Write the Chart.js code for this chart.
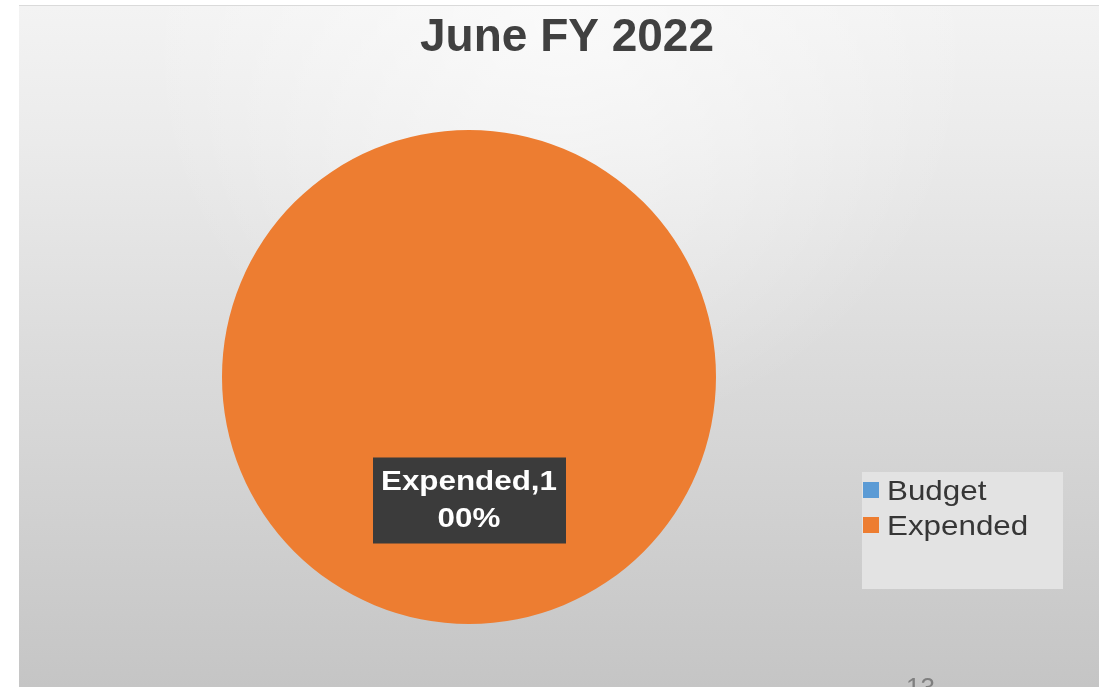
<!DOCTYPE html>
<html lang="en-US">
<head>
    <meta charset="utf-8">
    <title>June FY 2022</title>
    <script src="https://cdn.jsdelivr.net/npm/chart.js@4/dist/chart.umd.min.js"></script>
</head>
<style>
    html, body { margin: 0; padding: 0; background: #ffffff; overflow: hidden; }
    #holder { width: 1099px; height: 687px; }
</style>
<body>
<div id="holder">
    <canvas id="chart"></canvas>
</div>
<script>
    // budget vs expended for the month
    const labels = ['Budget', 'Expended'];
    const values = [0, 100];
    const colors = ['#5B9BD5', '#ED7D31'];
    const chartTitle = 'June FY 2022';
    const pageNumber = '13';

    // slide-like backdrop: white margin, grey fill darkening downwards
    const backdrop = {
        id: 'backdrop',
        beforeDraw(chart) {
            const ctx = chart.ctx;
            ctx.save();
            ctx.fillStyle = '#ffffff';
            ctx.fillRect(0, 0, chart.width, chart.height);
            const g = ctx.createLinearGradient(0, 6, 0, chart.height);
            g.addColorStop(0, '#f3f3f3');
            g.addColorStop(0.2, '#ebebeb');
            g.addColorStop(0.5, '#dcdcdc');
            g.addColorStop(1, '#c5c5c5');
            ctx.fillStyle = g;
            ctx.fillRect(19, 6, chart.width - 19, chart.height - 6);
            // soft highlight behind the title
            const r = ctx.createRadialGradient(560, 20, 10, 560, 20, 420);
            r.addColorStop(0, 'rgba(255,255,255,0.6)');
            r.addColorStop(1, 'rgba(255,255,255,0)');
            ctx.fillStyle = r;
            ctx.fillRect(19, 6, chart.width - 19, chart.height - 6);
            ctx.fillStyle = '#dadada';
            ctx.fillRect(19, 5, chart.width - 19, 1);
            ctx.restore();
        }
    };

    // title, data label, legend box and page number
    const overlay = {
        id: 'overlay',
        afterDraw(chart) {
            const ctx = chart.ctx;
            ctx.save();

            ctx.fillStyle = '#404040';
            ctx.font = 'bold 46px "Liberation Sans", Arial, sans-serif';
            ctx.textAlign = 'center';
            ctx.textBaseline = 'alphabetic';
            ctx.fillText(chartTitle, 567, 51);

            const ds = chart.data.datasets[0];
            const total = ds.data.reduce((a, b) => a + b, 0);
            const meta = chart.getDatasetMeta(0);
            ds.data.forEach((v, i) => {
                if (!v) return;
                const pos = meta.data[i].tooltipPosition();
                const text = chart.data.labels[i] + ',' + Math.round(v / total * 100) + '%';
                const lines = [text.slice(0, 10), text.slice(10)];
                ctx.fillStyle = '#3b3b3b';
                ctx.fillRect(pos.x - 96, pos.y - 43, 193, 86);
                ctx.fillStyle = '#ffffff';
                ctx.font = 'bold 28px "Liberation Sans", Arial, sans-serif';
                lines.forEach((ln, k) => {
                    ctx.save();
                    ctx.translate(pos.x, pos.y - 11 + k * 37);
                    ctx.scale(1.12, 1);
                    ctx.fillText(ln, 0, 0);
                    ctx.restore();
                });
            });

            // legend
            ctx.fillStyle = '#e3e3e3';
            ctx.fillRect(862, 472, 201, 117);
            ctx.textAlign = 'left';
            ctx.font = '28px "Liberation Sans", Arial, sans-serif';
            chart.data.labels.forEach((lb, i) => {
                const y = 482 + i * 35;
                ctx.fillStyle = colors[i];
                ctx.fillRect(863, y, 16, 16);
                ctx.fillStyle = '#363636';
                ctx.save();
                ctx.translate(887, y + 18);
                ctx.scale(1.12, 1);
                ctx.fillText(lb, 0, 0);
                ctx.restore();
            });

            ctx.fillStyle = '#7f7f7f';
            ctx.font = '26px "Liberation Sans", Arial, sans-serif';
            ctx.textBaseline = 'top';
            ctx.fillText(pageNumber, 906, 676);
            ctx.restore();
        }
    };

    const config = {
        type: 'pie',
        data: {
            labels: labels,
            datasets: [{
                data: values,
                backgroundColor: colors,
                borderWidth: 0
            }]
        },
        options: {
            responsive: true,
            maintainAspectRatio: false,
            animation: false,
            layout: {
                padding: { left: 222, right: 383, top: 130, bottom: 63 }
            },
            plugins: {
                legend: { display: false },
                title: { display: false },
                tooltip: { enabled: false }
            }
        },
        plugins: [backdrop, overlay]
    };

    window.onload = function () {
        const ctx = document.getElementById('chart').getContext('2d');
        window.myPie = new Chart(ctx, config);
    };
</script>
</body>
</html>
